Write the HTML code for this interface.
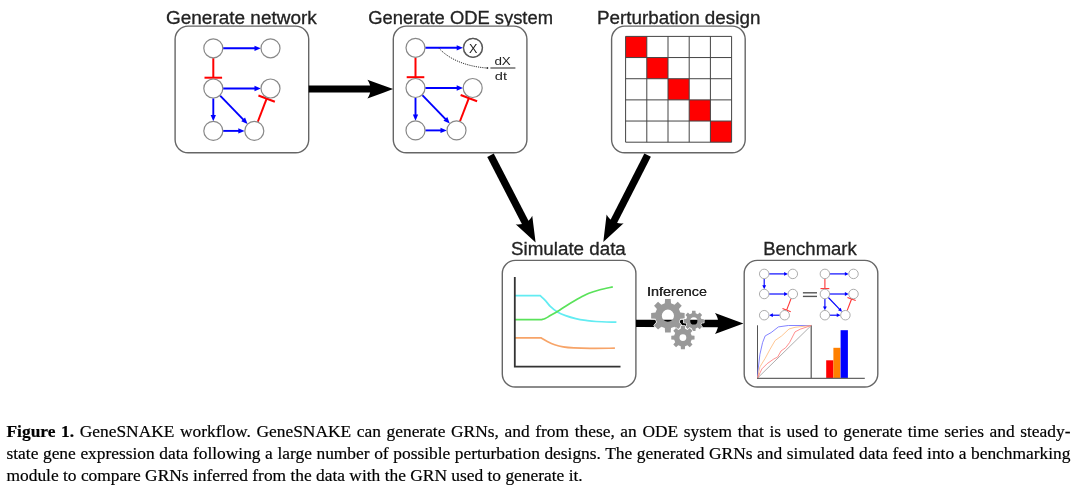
<!DOCTYPE html>
<html><head><meta charset="utf-8"><style>
html,body{margin:0;padding:0;background:#fff;width:1080px;height:492px;overflow:hidden}
svg{position:absolute;left:0;top:0;will-change:transform}
.cap{position:absolute;left:6.5px;top:0;width:1064px;font-family:"Liberation Serif",serif;font-size:17.4px;color:#000;-webkit-text-stroke:0.2px #000}
.l{position:absolute;left:0;white-space:nowrap;text-align:justify;text-align-last:justify;width:1064px;line-height:22px;height:22px}
.l1{top:420.3px} .l2{top:442.3px} .l3{top:464.2px}
.l3{text-align-last:left}
</style></head><body>
<svg width="1080" height="492" viewBox="0 0 1080 492">
<text x="166" y="23.6" font-family="Liberation Sans" font-size="17.6" fill="#222" stroke="#222" stroke-width="0.3" textLength="150.8" lengthAdjust="spacingAndGlyphs">Generate network</text>
<text x="368.2" y="23.5" font-family="Liberation Sans" font-size="17.6" fill="#222" stroke="#222" stroke-width="0.3" textLength="184.8" lengthAdjust="spacingAndGlyphs">Generate ODE system</text>
<text x="597" y="23.6" font-family="Liberation Sans" font-size="17.6" fill="#222" stroke="#222" stroke-width="0.3" textLength="163.4" lengthAdjust="spacingAndGlyphs">Perturbation design</text>
<text x="511" y="254.8" font-family="Liberation Sans" font-size="17.6" fill="#222" stroke="#222" stroke-width="0.3" textLength="114.8" lengthAdjust="spacingAndGlyphs">Simulate data</text>
<text x="763.2" y="254.8" font-family="Liberation Sans" font-size="17.6" fill="#222" stroke="#222" stroke-width="0.3" textLength="93.6" lengthAdjust="spacingAndGlyphs">Benchmark</text>
<text x="646.8" y="295.9" font-family="Liberation Sans" font-size="13.4" fill="#3a3a3a" stroke="#3a3a3a" stroke-width="0" textLength="60.2" lengthAdjust="spacingAndGlyphs">Inference</text>
<rect x="175.1" y="26.1" width="133.6" height="126.6" rx="13" ry="13" fill="#fff" stroke="#666" stroke-width="1.4"/>
<rect x="393.3" y="26.1" width="133.6" height="126.6" rx="13" ry="13" fill="#fff" stroke="#666" stroke-width="1.4"/>
<rect x="611.6" y="26.1" width="133.6" height="126.6" rx="13" ry="13" fill="#fff" stroke="#666" stroke-width="1.4"/>
<rect x="502.3" y="260.4" width="133.6" height="126.6" rx="13" ry="13" fill="#fff" stroke="#666" stroke-width="1.4"/>
<rect x="744.2" y="260.4" width="133.6" height="126.6" rx="13" ry="13" fill="#fff" stroke="#666" stroke-width="1.4"/>
<line x1="308.7" y1="89.1" x2="371.95" y2="89.1" stroke="#000" stroke-width="7"/>
<path transform="translate(393.1,89.1) rotate(0) scale(2.35)" d="M0,0 L-10.93,-4.02 C-9.18,-1.65 -9.19,1.6 -10.93,4.02Z" fill="#000"/>
<line x1="490.5" y1="155.2" x2="526.02" y2="223.95" stroke="#000" stroke-width="7.3"/>
<path transform="translate(535.6,242.5) rotate(62.68) scale(2.32)" d="M0,0 L-10.93,-4.02 C-9.18,-1.65 -9.19,1.6 -10.93,4.02Z" fill="#000"/>
<line x1="647.6" y1="155.2" x2="613.04" y2="222.92" stroke="#000" stroke-width="7.3"/>
<path transform="translate(603.3,242) rotate(117.04) scale(2.38)" d="M0,0 L-10.93,-4.02 C-9.18,-1.65 -9.19,1.6 -10.93,4.02Z" fill="#000"/>
<line x1="223.1" y1="48.3" x2="255.76" y2="48.3" stroke="#00f" stroke-width="1.9"/>
<path d="M260.8,48.3 L254.5,50.95 L254.5,45.65Z" fill="#00f"/>
<line x1="213.3" y1="58.1" x2="213.3" y2="77.7" stroke="#f00" stroke-width="2"/>
<line x1="204.5" y1="77.7" x2="222.1" y2="77.7" stroke="#f00" stroke-width="2"/>
<line x1="223.1" y1="88.5" x2="255.76" y2="88.5" stroke="#00f" stroke-width="1.9"/>
<path d="M260.8,88.5 L254.5,91.15 L254.5,85.85Z" fill="#00f"/>
<line x1="213.3" y1="98.3" x2="213.3" y2="116.16" stroke="#00f" stroke-width="1.9"/>
<path d="M213.3,121.2 L210.65,114.9 L215.95,114.9Z" fill="#00f"/>
<line x1="220.11" y1="95.54" x2="244.05" y2="120.3" stroke="#00f" stroke-width="1.9"/>
<path d="M247.56,123.93 L241.27,121.24 L245.08,117.56Z" fill="#00f"/>
<line x1="223.1" y1="130.9" x2="239.56" y2="130.9" stroke="#00f" stroke-width="1.9"/>
<path d="M244.6,130.9 L238.3,133.55 L238.3,128.25Z" fill="#00f"/>
<line x1="257.8" y1="121.75" x2="266.65" y2="98.59" stroke="#f00" stroke-width="2"/>
<line x1="274.87" y1="101.73" x2="258.42" y2="95.45" stroke="#f00" stroke-width="2"/>
<circle cx="213.3" cy="48.3" r="9.5" fill="#fff" stroke="#888" stroke-width="1.2"/>
<circle cx="270.5" cy="48.3" r="9.5" fill="#fff" stroke="#888" stroke-width="1.2"/>
<circle cx="213.3" cy="88.5" r="9.5" fill="#fff" stroke="#888" stroke-width="1.2"/>
<circle cx="270.5" cy="88.5" r="9.5" fill="#fff" stroke="#888" stroke-width="1.2"/>
<circle cx="213.3" cy="130.9" r="9.5" fill="#fff" stroke="#888" stroke-width="1.2"/>
<circle cx="254.3" cy="130.9" r="9.5" fill="#fff" stroke="#888" stroke-width="1.2"/>
<line x1="425.3" y1="47.8" x2="457.96" y2="47.8" stroke="#00f" stroke-width="1.9"/>
<path d="M463,47.8 L456.7,50.45 L456.7,45.15Z" fill="#00f"/>
<line x1="415.5" y1="57.6" x2="415.5" y2="77.2" stroke="#f00" stroke-width="2"/>
<line x1="406.7" y1="77.2" x2="424.3" y2="77.2" stroke="#f00" stroke-width="2"/>
<line x1="425.3" y1="88" x2="457.96" y2="88" stroke="#00f" stroke-width="1.9"/>
<path d="M463,88 L456.7,90.65 L456.7,85.35Z" fill="#00f"/>
<line x1="415.5" y1="97.8" x2="415.5" y2="115.66" stroke="#00f" stroke-width="1.9"/>
<path d="M415.5,120.7 L412.85,114.4 L418.15,114.4Z" fill="#00f"/>
<line x1="422.31" y1="95.04" x2="446.25" y2="119.8" stroke="#00f" stroke-width="1.9"/>
<path d="M449.76,123.43 L443.47,120.74 L447.28,117.06Z" fill="#00f"/>
<line x1="425.3" y1="130.4" x2="441.76" y2="130.4" stroke="#00f" stroke-width="1.9"/>
<path d="M446.8,130.4 L440.5,133.05 L440.5,127.75Z" fill="#00f"/>
<line x1="460" y1="121.25" x2="468.85" y2="98.09" stroke="#f00" stroke-width="2"/>
<line x1="477.07" y1="101.23" x2="460.62" y2="94.95" stroke="#f00" stroke-width="2"/>
<circle cx="415.5" cy="47.8" r="9.5" fill="#fff" stroke="#888" stroke-width="1.2"/>
<circle cx="472.7" cy="47.8" r="9.5" fill="#fff" stroke="#888" stroke-width="1.2"/>
<circle cx="415.5" cy="88" r="9.5" fill="#fff" stroke="#888" stroke-width="1.2"/>
<circle cx="472.7" cy="88" r="9.5" fill="#fff" stroke="#888" stroke-width="1.2"/>
<circle cx="415.5" cy="130.4" r="9.5" fill="#fff" stroke="#888" stroke-width="1.2"/>
<circle cx="456.5" cy="130.4" r="9.5" fill="#fff" stroke="#888" stroke-width="1.2"/>
<circle cx="473.1" cy="47.8" r="9.5" fill="none" stroke="#555" stroke-width="1.15"/>
<text x="473.1" y="52.5" font-family="Liberation Sans" font-size="12.6" fill="#222" text-anchor="middle">X</text>
<path d="M439,48.3 C447,57 462,66 486.5,68" fill="none" stroke="#333" stroke-width="1" stroke-dasharray="1.2,1"/>
<circle cx="487.3" cy="68" r="1" fill="#333"/>
<text x="494.4" y="64.6" font-family="Liberation Sans" font-size="11.8" fill="#222" textLength="16.4" lengthAdjust="spacingAndGlyphs">dX</text>
<line x1="490.4" y1="68" x2="515.4" y2="68" stroke="#555" stroke-width="1.3"/>
<text x="494.8" y="80.4" font-family="Liberation Sans" font-size="11.8" fill="#222" textLength="12.2" lengthAdjust="spacingAndGlyphs">dt</text>
<rect x="625.6" y="36.4" width="21.2" height="21.16" fill="#f00"/>
<rect x="646.8" y="57.56" width="21.2" height="21.16" fill="#f00"/>
<rect x="668" y="78.72" width="21.2" height="21.16" fill="#f00"/>
<rect x="689.2" y="99.88" width="21.2" height="21.16" fill="#f00"/>
<rect x="710.4" y="121.04" width="21.2" height="21.16" fill="#f00"/>
<line x1="625.6" y1="36.4" x2="625.6" y2="142.2" stroke="#444" stroke-width="1"/>
<line x1="625.6" y1="36.4" x2="731.6" y2="36.4" stroke="#444" stroke-width="1"/>
<line x1="646.8" y1="36.4" x2="646.8" y2="142.2" stroke="#444" stroke-width="1"/>
<line x1="625.6" y1="57.56" x2="731.6" y2="57.56" stroke="#444" stroke-width="1"/>
<line x1="668" y1="36.4" x2="668" y2="142.2" stroke="#444" stroke-width="1"/>
<line x1="625.6" y1="78.72" x2="731.6" y2="78.72" stroke="#444" stroke-width="1"/>
<line x1="689.2" y1="36.4" x2="689.2" y2="142.2" stroke="#444" stroke-width="1"/>
<line x1="625.6" y1="99.88" x2="731.6" y2="99.88" stroke="#444" stroke-width="1"/>
<line x1="710.4" y1="36.4" x2="710.4" y2="142.2" stroke="#444" stroke-width="1"/>
<line x1="625.6" y1="121.04" x2="731.6" y2="121.04" stroke="#444" stroke-width="1"/>
<line x1="731.6" y1="36.4" x2="731.6" y2="142.2" stroke="#444" stroke-width="1"/>
<line x1="625.6" y1="142.2" x2="731.6" y2="142.2" stroke="#444" stroke-width="1"/>
<path d="M514.8,295.7 L540.2,295.7 C541.03,296.47 543.52,298.52 545.2,300.3 C546.88,302.08 548.27,304.45 550.3,306.4 C552.33,308.35 554.85,310.47 557.4,312 C559.95,313.53 562.55,314.5 565.6,315.6 C568.65,316.7 572.32,317.8 575.7,318.6 C579.08,319.4 582.52,319.92 585.9,320.4 C589.28,320.88 590.92,321.2 596,321.5 C601.08,321.8 613,322.08 616.4,322.2" fill="none" stroke="#62ecf2" stroke-width="1.7"/>
<path d="M514.8,319.6 L541.7,319.6 C542.28,319.43 543.77,319.27 545.2,318.6 C546.63,317.93 548.27,316.78 550.3,315.6 C552.33,314.42 554.85,313.07 557.4,311.5 C559.95,309.93 562.88,307.9 565.6,306.2 C568.32,304.5 571.17,302.78 573.7,301.3 C576.23,299.82 578.27,298.65 580.8,297.3 C583.33,295.95 585.85,294.42 588.9,293.2 C591.95,291.98 595.12,291.05 599.1,290 C603.08,288.95 610.52,287.42 612.8,286.9" fill="none" stroke="#5ae25a" stroke-width="1.7"/>
<path d="M514.8,337.8 L540.9,337.8 C541.97,338.42 545,340.35 547.3,341.5 C549.6,342.65 552.05,343.82 554.7,344.7 C557.35,345.58 560,346.27 563.2,346.8 C566.4,347.33 569.45,347.63 573.9,347.9 C578.35,348.17 583.07,348.35 589.9,348.4 C596.73,348.45 610.73,348.23 614.9,348.2" fill="none" stroke="#f7a468" stroke-width="1.7"/>
<path d="M514.8,276.9 L514.8,366.7 L620.5,366.7" fill="none" stroke="#333" stroke-width="1.8"/>
<line x1="636" y1="323.4" x2="720" y2="323.48" stroke="#000" stroke-width="7.3"/>
<path transform="translate(743.4,323.5) rotate(0.05) scale(2.6)" d="M0,0 L-10.93,-4.02 C-9.18,-1.65 -9.19,1.6 -10.93,4.02Z" fill="#000"/>
<text x="647.2" y="296.1" font-family="Liberation Sans" font-size="12.8" fill="#222" font-weight="normal" text-anchor="start" textLength="59.8" lengthAdjust="spacingAndGlyphs">Inference</text>
<path d="M664.79,303.28 L665.08,298.94 L670.72,298.94 L671.01,303.28 L674.48,304.72 L677.76,301.85 L681.75,305.84 L678.88,309.12 L680.32,312.59 L684.66,312.88 L684.66,318.52 L680.32,318.81 L678.88,322.28 L681.75,325.56 L677.76,329.55 L674.48,326.68 L671.01,328.12 L670.72,332.46 L665.08,332.46 L664.79,328.12 L661.32,326.68 L658.04,329.55 L654.05,325.56 L656.92,322.28 L655.48,318.81 L651.14,318.52 L651.14,312.88 L655.48,312.59 L656.92,309.12 L654.05,305.84 L658.04,301.85 L661.32,304.72Z" fill="none" stroke="#fff" stroke-width="1.3" stroke-linejoin="round"/>
<path d="M664.79,303.28 L665.08,298.94 L670.72,298.94 L671.01,303.28 L674.48,304.72 L677.76,301.85 L681.75,305.84 L678.88,309.12 L680.32,312.59 L684.66,312.88 L684.66,318.52 L680.32,318.81 L678.88,322.28 L681.75,325.56 L677.76,329.55 L674.48,326.68 L671.01,328.12 L670.72,332.46 L665.08,332.46 L664.79,328.12 L661.32,326.68 L658.04,329.55 L654.05,325.56 L656.92,322.28 L655.48,318.81 L651.14,318.52 L651.14,312.88 L655.48,312.59 L656.92,309.12 L654.05,305.84 L658.04,301.85 L661.32,304.72Z M674,315.7 A6.1,6.1 0 1 0 661.8,315.7 A6.1,6.1 0 1 0 674,315.7Z" fill="#999" fill-rule="evenodd"/>
<path d="M691.9,313.33 L692.11,310.84 L695.49,310.84 L695.7,313.33 L697.81,314.21 L699.71,312.59 L702.11,314.99 L700.49,316.89 L701.37,319 L703.86,319.21 L703.86,322.59 L701.37,322.8 L700.49,324.91 L702.11,326.81 L699.71,329.21 L697.81,327.59 L695.7,328.47 L695.49,330.96 L692.11,330.96 L691.9,328.47 L689.79,327.59 L687.89,329.21 L685.49,326.81 L687.11,324.91 L686.23,322.8 L683.74,322.59 L683.74,319.21 L686.23,319 L687.11,316.89 L685.49,314.99 L687.89,312.59 L689.79,314.21Z" fill="none" stroke="#fff" stroke-width="1.3" stroke-linejoin="round"/>
<path d="M691.9,313.33 L692.11,310.84 L695.49,310.84 L695.7,313.33 L697.81,314.21 L699.71,312.59 L702.11,314.99 L700.49,316.89 L701.37,319 L703.86,319.21 L703.86,322.59 L701.37,322.8 L700.49,324.91 L702.11,326.81 L699.71,329.21 L697.81,327.59 L695.7,328.47 L695.49,330.96 L692.11,330.96 L691.9,328.47 L689.79,327.59 L687.89,329.21 L685.49,326.81 L687.11,324.91 L686.23,322.8 L683.74,322.59 L683.74,319.21 L686.23,319 L687.11,316.89 L685.49,314.99 L687.89,312.59 L689.79,314.21Z M697.4,320.9 A3.6,3.6 0 1 0 690.2,320.9 A3.6,3.6 0 1 0 697.4,320.9Z" fill="#999" fill-rule="evenodd"/>
<path d="M680.71,328.87 L680.94,325.96 L684.86,325.96 L685.09,328.87 L687.53,329.88 L689.74,327.99 L692.51,330.76 L690.62,332.97 L691.63,335.41 L694.54,335.64 L694.54,339.56 L691.63,339.79 L690.62,342.23 L692.51,344.44 L689.74,347.21 L687.53,345.32 L685.09,346.33 L684.86,349.24 L680.94,349.24 L680.71,346.33 L678.27,345.32 L676.06,347.21 L673.29,344.44 L675.18,342.23 L674.17,339.79 L671.26,339.56 L671.26,335.64 L674.17,335.41 L675.18,332.97 L673.29,330.76 L676.06,327.99 L678.27,329.88Z" fill="none" stroke="#fff" stroke-width="1.3" stroke-linejoin="round"/>
<path d="M680.71,328.87 L680.94,325.96 L684.86,325.96 L685.09,328.87 L687.53,329.88 L689.74,327.99 L692.51,330.76 L690.62,332.97 L691.63,335.41 L694.54,335.64 L694.54,339.56 L691.63,339.79 L690.62,342.23 L692.51,344.44 L689.74,347.21 L687.53,345.32 L685.09,346.33 L684.86,349.24 L680.94,349.24 L680.71,346.33 L678.27,345.32 L676.06,347.21 L673.29,344.44 L675.18,342.23 L674.17,339.79 L671.26,339.56 L671.26,335.64 L674.17,335.41 L675.18,332.97 L673.29,330.76 L676.06,327.99 L678.27,329.88Z M686.3,337.6 A3.4,3.4 0 1 0 679.5,337.6 A3.4,3.4 0 1 0 686.3,337.6Z" fill="#999" fill-rule="evenodd"/>
<line x1="769.1" y1="273.9" x2="784.91" y2="273.9" stroke="#00f" stroke-width="1.15"/>
<path d="M787.95,273.9 L784.15,275.8 L784.15,272Z" fill="#00f"/>
<line x1="764.2" y1="278.8" x2="764.2" y2="286.11" stroke="#00f" stroke-width="1.15"/>
<path d="M764.2,289.15 L762.3,285.35 L766.1,285.35Z" fill="#00f"/>
<line x1="769.1" y1="294" x2="784.91" y2="294" stroke="#00f" stroke-width="1.15"/>
<path d="M787.95,294 L784.15,295.9 L784.15,292.1Z" fill="#00f"/>
<line x1="791.05" y1="298.58" x2="786.63" y2="310.16" stroke="#f33" stroke-width="1.1"/>
<line x1="782.52" y1="308.59" x2="790.74" y2="311.73" stroke="#f33" stroke-width="1.1"/>
<line x1="779.8" y1="315.2" x2="772.09" y2="315.2" stroke="#00f" stroke-width="1.15"/>
<path d="M769.05,315.2 L772.85,313.3 L772.85,317.1Z" fill="#00f"/>
<circle cx="764.2" cy="273.9" r="4.75" fill="#fff" stroke="#a8a8a8" stroke-width="0.95"/>
<circle cx="792.8" cy="273.9" r="4.75" fill="#fff" stroke="#a8a8a8" stroke-width="0.95"/>
<circle cx="764.2" cy="294" r="4.75" fill="#fff" stroke="#a8a8a8" stroke-width="0.95"/>
<circle cx="792.8" cy="294" r="4.75" fill="#fff" stroke="#a8a8a8" stroke-width="0.95"/>
<circle cx="764.2" cy="315.2" r="4.75" fill="#fff" stroke="#a8a8a8" stroke-width="0.95"/>
<circle cx="784.7" cy="315.2" r="4.75" fill="#fff" stroke="#a8a8a8" stroke-width="0.95"/>
<line x1="829.8" y1="273.9" x2="845.61" y2="273.9" stroke="#00f" stroke-width="1.15"/>
<path d="M848.65,273.9 L844.85,275.8 L844.85,272Z" fill="#00f"/>
<line x1="824.9" y1="278.8" x2="824.9" y2="288.6" stroke="#f33" stroke-width="1.1"/>
<line x1="820.5" y1="288.6" x2="829.3" y2="288.6" stroke="#f33" stroke-width="1.1"/>
<line x1="829.8" y1="294" x2="845.61" y2="294" stroke="#00f" stroke-width="1.15"/>
<path d="M848.65,294 L844.85,295.9 L844.85,292.1Z" fill="#00f"/>
<line x1="824.9" y1="298.9" x2="824.9" y2="307.31" stroke="#00f" stroke-width="1.15"/>
<path d="M824.9,310.35 L823,306.55 L826.8,306.55Z" fill="#00f"/>
<line x1="828.31" y1="297.52" x2="839.92" y2="309.53" stroke="#00f" stroke-width="1.15"/>
<path d="M842.03,311.71 L838.02,310.3 L840.75,307.66Z" fill="#00f"/>
<line x1="829.8" y1="315.2" x2="837.51" y2="315.2" stroke="#00f" stroke-width="1.15"/>
<path d="M840.55,315.2 L836.75,317.1 L836.75,313.3Z" fill="#00f"/>
<line x1="847.15" y1="310.62" x2="851.57" y2="299.04" stroke="#f33" stroke-width="1.1"/>
<line x1="855.68" y1="300.61" x2="847.46" y2="297.47" stroke="#f33" stroke-width="1.1"/>
<circle cx="824.9" cy="273.9" r="4.75" fill="#fff" stroke="#a8a8a8" stroke-width="0.95"/>
<circle cx="853.5" cy="273.9" r="4.75" fill="#fff" stroke="#a8a8a8" stroke-width="0.95"/>
<circle cx="824.9" cy="294" r="4.75" fill="#fff" stroke="#a8a8a8" stroke-width="0.95"/>
<circle cx="853.5" cy="294" r="4.75" fill="#fff" stroke="#a8a8a8" stroke-width="0.95"/>
<circle cx="824.9" cy="315.2" r="4.75" fill="#fff" stroke="#a8a8a8" stroke-width="0.95"/>
<circle cx="845.4" cy="315.2" r="4.75" fill="#fff" stroke="#a8a8a8" stroke-width="0.95"/>
<line x1="802.9" y1="292.8" x2="817" y2="292.8" stroke="#555" stroke-width="1.4"/>
<line x1="802.9" y1="296.4" x2="817" y2="296.4" stroke="#555" stroke-width="1.4"/>
<line x1="757.5" y1="325.3" x2="757.5" y2="378.2" stroke="#555" stroke-width="1"/>
<line x1="811.2" y1="325.3" x2="811.2" y2="378.2" stroke="#555" stroke-width="1.2"/>
<line x1="757.5" y1="378.1" x2="811.2" y2="325.5" stroke="#999" stroke-width="0.8"/>
<polyline points="757.5,378.1 757.9,371.5 759.9,354.4 762.6,342.5 765.2,335.9 771.1,332.6 778.4,326.9 788.3,325.5 811.2,325.5" fill="none" stroke="#6e6eff" stroke-width="0.85"/>
<polyline points="757.5,378.1 759.9,366.9 765.2,358.3 769.8,349.7 775.1,340.5 781.7,335.9 789,329 795,327.3 811.2,325.5" fill="none" stroke="#ffb877" stroke-width="0.8"/>
<polyline points="757.5,378.1 761.9,368.9 767.2,363.6 773.8,359 777.7,357 781,351 785.7,347.7 789.6,342.5 795,331.9 800.2,329.2 811.2,325.5" fill="none" stroke="#ff7474" stroke-width="0.8"/>
<rect x="826.2" y="360.3" width="7.2" height="18" fill="#f00"/>
<rect x="833.4" y="347.8" width="7.0" height="30.5" fill="#ff8000"/>
<rect x="840.6" y="330.2" width="7.3" height="48.1" fill="#00f"/>
<line x1="757" y1="378.4" x2="864.8" y2="378.4" stroke="#666" stroke-width="1.3"/>
</svg>
<div class="cap"><div class="l l1"><b>Figure 1.</b> GeneSNAKE workflow. GeneSNAKE can generate GRNs, and from these, an ODE system that is used to generate time series and steady-</div>
<div class="l l2">state gene expression data following a large number of possible perturbation designs. The generated GRNs and simulated data feed into a benchmarking</div>
<div class="l l3">module to compare GRNs inferred from the data with the GRN used to generate it.</div></div>
</body></html>
